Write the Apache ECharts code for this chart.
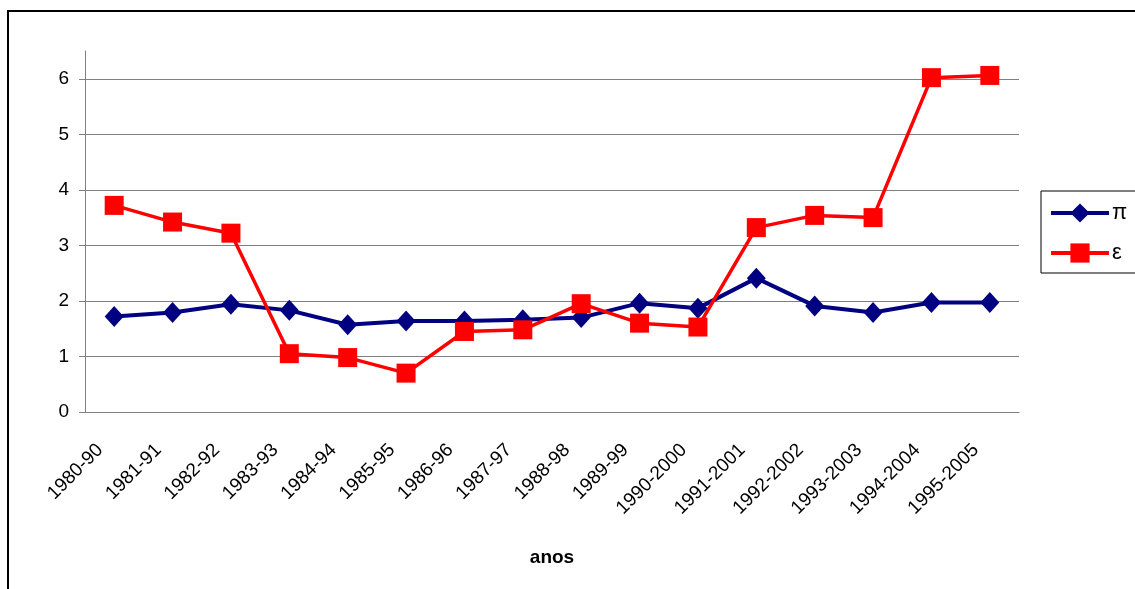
<!DOCTYPE html>
<html>
<head>
<meta charset="utf-8">
<script src="https://cdn.jsdelivr.net/npm/echarts@6/dist/echarts.min.js"></script>
<style>
    html, body { margin: 0; padding: 0; overflow: hidden; background: #fff; }
    #frame { position: absolute; left: 7px; top: 10px; width: 1200px; height: 700px; border: 2px solid #000; }
    #main { position: absolute; left: 0; top: 0; width: 1135px; height: 589px; }
</style>
</head>
<body>
<div id="frame"></div>
<div id="main"></div>
<script>
var anos = ['1980-90', '1981-91', '1982-92', '1983-93', '1984-94', '1985-95', '1986-96', '1987-97',
    '1988-98', '1989-99', '1990-2000', '1991-2001', '1992-2002', '1993-2003', '1994-2004', '1995-2005'];
var pi = [1.72, 1.79, 1.94, 1.83, 1.57, 1.64, 1.64, 1.66, 1.70, 1.96, 1.87, 2.41, 1.91, 1.79, 1.97, 1.97];
var eps = [3.72, 3.42, 3.22, 1.05, 0.98, 0.70, 1.45, 1.48, 1.95, 1.60, 1.53, 3.32, 3.54, 3.50, 6.02, 6.06];

var dom = document.getElementById('main');
var myChart = echarts.init(dom);

var option = {
    animation: false,
    textStyle: { fontFamily: 'Liberation Sans, Arial, sans-serif' },
    grid: { left: 85, right: 116, top: 51, bottom: 177 },
    legend: {
        orient: 'vertical',
        left: 1041,
        top: 191,
        padding: [10, 10, 8, 8],
        borderColor: '#000',
        borderWidth: 1,
        itemWidth: 58,
        itemHeight: 24,
        itemGap: 16,
        lineStyle: { width: 4 },
        textStyle: { fontSize: 22, color: '#000', lineHeight: 24, padding: [0, 0, 0, -2] },
        data: ['π', 'ε']
    },
    xAxis: {
        type: 'category',
        data: anos,
        boundaryGap: true,
        name: 'anos',
        nameLocation: 'middle',
        nameGap: 136,
        nameTextStyle: { fontSize: 19, fontWeight: 'bold', color: '#000' },
        axisLine: { lineStyle: { color: '#808080', width: 1 } },
        axisTick: { length: 6, lineStyle: { color: '#808080' } },
        axisLabel: {
            interval: 0,
            rotate: 45,
            fontSize: 19,
            color: '#000',
            margin: 21,
            formatter: function (v) { return '{a|' + v + '}'; },
            rich: {
                a: { fontSize: 19, color: '#000', padding: [0, 20, 0, 0] }
            }
        }
    },
    yAxis: {
        type: 'value',
        min: 0,
        max: 6.5,
        interval: 1,
        axisLine: { show: true, lineStyle: { color: '#808080', width: 1 } },
        axisTick: { show: true, length: 6, lineStyle: { color: '#808080' } },
        axisLabel: { fontSize: 19, color: '#000', margin: 16, showMaxLabel: false },
        splitLine: {
            lineStyle: {
                color: ['#808080', '#808080', '#808080', '#808080', '#808080', '#808080', '#808080', 'rgba(0,0,0,0)'],
                width: 1
            }
        }
    },
    series: [
        {
            name: 'π',
            type: 'line',
            data: pi,
            symbol: 'diamond',
            symbolSize: [19, 21],
            itemStyle: { color: '#000080' },
            lineStyle: { color: '#000080', width: 4 }
        },
        {
            name: 'ε',
            type: 'line',
            data: eps,
            symbol: 'rect',
            symbolSize: 19,
            itemStyle: { color: '#FF0000' },
            lineStyle: { color: '#FF0000', width: 3.5 }
        }
    ]
};

myChart.setOption(option, true);
</script>
</body>
</html>
